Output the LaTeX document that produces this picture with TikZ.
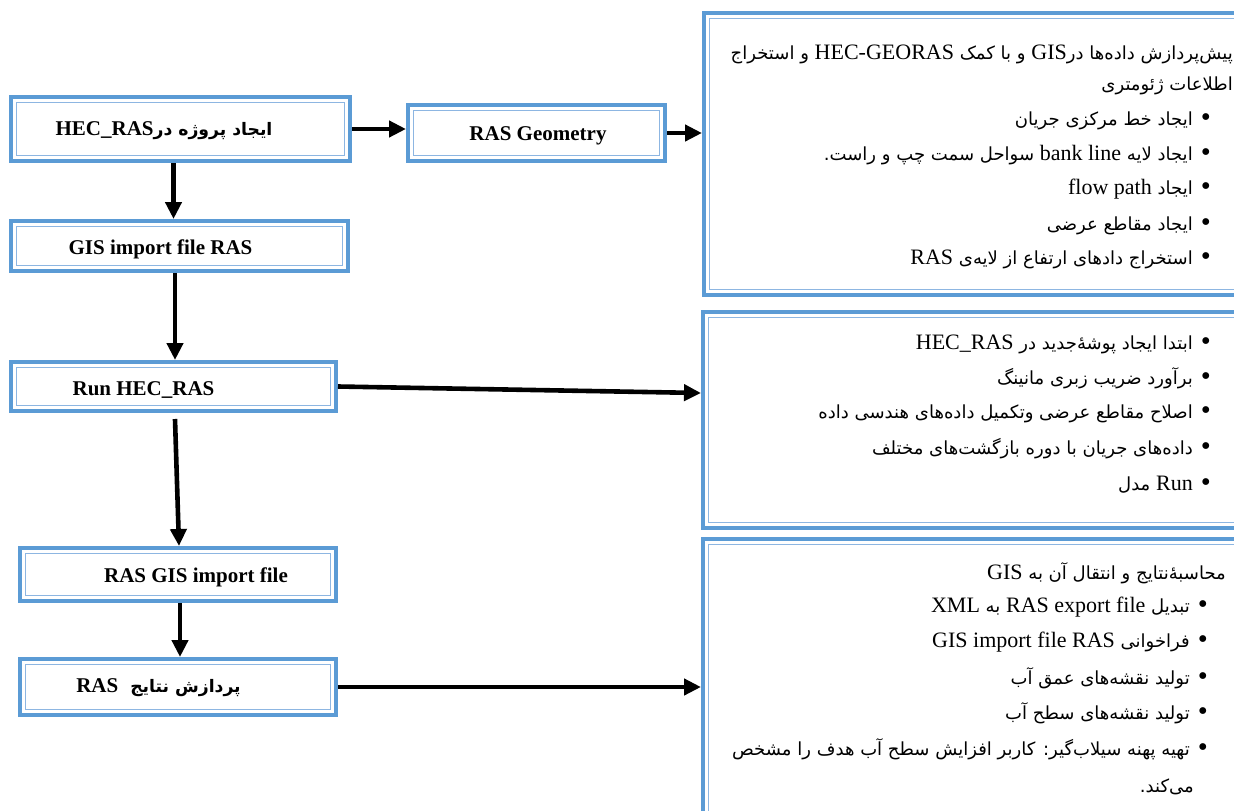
\documentclass[tikz,border=0pt]{standalone}
\usepackage{fontspec}
\usepackage{graphicx}
\setmainfont{Liberation Serif}
\newfontfamily\arabicfont[Script=Arabic,Scale=0.82]{DejaVu Sans}
\TeXXeTstate=1
\usetikzlibrary{arrows.meta}
\definecolor{boxblue}{HTML}{5B9BD5}
\definecolor{innerblue}{HTML}{8DB6E2}
\newcommand{\fa}[1]{{\arabicfont\beginR #1\endR}}
\newcommand{\la}[1]{{\rmfamily\beginL #1\endL}}
% bullet placed to the right of an RTL line (outside the R segment)
\newcommand{\bl}[1]{\fa{#1}\hspace{8pt}\raisebox{-1.2pt}{\scalebox{1.3}{\rmfamily ^^^^2022}}}
\tikzset{
  dbox/.style={draw=boxblue, line width=4pt, fill=white, inner sep=0pt,
    path picture={\draw[innerblue, line width=1.3pt]
      ([shift={(5.5pt,5.5pt)}]path picture bounding box.south west) rectangle
      ([shift={(-5.5pt,-5.5pt)}]path picture bounding box.north east);}},
  arr/.style={line width=4.6pt, -{Triangle[length=17pt,width=16pt]}},
  rt/.style={anchor=base east, inner sep=0pt, font=\fontsize{22}{26}\selectfont},
  lt/.style={anchor=base, inner sep=0pt, font=\fontsize{21}{25}\selectfont\bfseries},
}
\begin{document}
\begin{tikzpicture}[x=1pt,y=-1pt]
\useasboundingbox (0,0) rectangle (1234,811);
\clip (0,0) rectangle (1234,811);
\fill[white] (0,0) rectangle (1234,811);
% left column boxes
\node[dbox, minimum width=339pt, minimum height=64pt] (b1) at (180.5,129) {};
\node[dbox, minimum width=337pt, minimum height=50pt] (b2) at (179.5,246) {};
\node[dbox, minimum width=325pt, minimum height=49pt] (b3) at (173.5,386.5) {};
\node[dbox, minimum width=316pt, minimum height=53pt] (b4) at (178,574.5) {};
\node[dbox, minimum width=316pt, minimum height=56pt] (b5) at (178,687) {};
\node[dbox, minimum width=257pt, minimum height=56pt] (geo) at (536.5,133) {};
% right boxes
\node[dbox, minimum width=556pt, minimum height=282pt] (r1) at (982,154) {};
\node[dbox, minimum width=557pt, minimum height=216pt] (r2) at (981.5,420) {};
\node[dbox, minimum width=557pt, minimum height=301pt] (r3) at (981.5,689.5) {};
% left labels
\node[lt] (t1) at (164,135) {\fa{ایجاد پروژه در\la{HEC\_RAS}}};
\node[lt] (t2) at (160.5,254) {GIS import file RAS};
\node[lt] (t3) at (143.5,395) {Run HEC\_RAS};
\node[lt] (t4) at (196,582) {RAS GIS import file};
\node[lt] (t5) at (158.5,692) {\fa{پردازش نتایج \ \la{RAS}}};
\node[lt] (tg) at (538,140) {RAS Geometry};
% right box 1
\node[rt] (p1) at (1233,59) {\fa{پیش^^^^200cپردازش داده^^^^200cها در\la{GIS} و با کمک \la{HEC-GEORAS} و استخراج}};
\node[rt] (p2) at (1233,90) {\fa{اطلاعات ژئومتری}};
\node[rt] (p3) at (1211,125) {\bl{ایجاد خط مرکزی جریان}};
\node[rt] (p4) at (1211,160) {\bl{ایجاد لایه \la{bank line} سواحل سمت چپ و راست.}};
\node[rt] (p5) at (1211,194) {\bl{ایجاد \la{flow path}}};
\node[rt] (p6) at (1211,230) {\bl{ایجاد مقاطع عرضی}};
\node[rt] (p7) at (1211,264) {\bl{استخراج دادهای ارتفاع از لایه^^^^200cی \la{RAS}}};
% right box 2
\node[rt] (q1) at (1211,349) {\bl{ابتدا ایجاد پوشه^^^^0654^^^^200cجدید در \la{HEC\_RAS}}};
\node[rt] (q2) at (1211,384) {\bl{برآورد ضریب زبری مانینگ}};
\node[rt] (q3) at (1211,418) {\bl{اصلاح مقاطع عرضی وتکمیل داده^^^^200cهای هندسی داده}};
\node[rt] (q4) at (1211,454) {\bl{داده^^^^200cهای جریان با دوره بازگشت^^^^200cهای مختلف}};
\node[rt] (q5) at (1211,490) {\bl{\la{Run} مدل}};
% right box 3
\node[rt] (s1) at (1226,579) {\fa{محاسبه^^^^0654^^^^200cنتایج و انتقال آن به \la{GIS}}};
\node[rt] (s2) at (1208,612) {\bl{تبدیل \la{RAS export file} به \la{XML}}};
\node[rt] (s3) at (1208,647) {\bl{فراخوانی \la{GIS import file RAS}}};
\node[rt] (s4) at (1208,684) {\bl{تولید نقشه^^^^200cهای عمق آب}};
\node[rt] (s5) at (1208,719) {\bl{تولید نقشه^^^^200cهای سطح آب}};
\node[rt] (s6) at (1208,755) {\bl{تهیه پهنه سیلاب^^^^200cگیر: کاربر افزایش سطح آب هدف را مشخص}};
\node[rt] (s7) at (1194,792) {\fa{می^^^^200cکند.}};
% connectors
\draw[arr] (b1.east) -- (b1.east -| geo.west);
\draw[arr] (geo.east) -- (geo.east -| r1.west);
\draw[arr] ([xshift=-7pt]b1.south) -- ([xshift=-7pt]b1.south |- b2.north);
\draw[arr] ([xshift=-4.5pt]b2.south) -- ([xshift=-4.5pt]b2.south |- b3.north);
\draw[arr] ([shift={(1.5pt,-6pt)}]b3.south) -- ([xshift=1pt]b4.north);
\draw[arr] ([xshift=2pt]b4.south) -- ([xshift=2pt]b4.south |- b5.north);
\draw[arr] (b3.east) -- ([yshift=27pt]r2.west);
\draw[arr] (b5.east) -- (b5.east -| r3.west);
\end{tikzpicture}
\end{document}
